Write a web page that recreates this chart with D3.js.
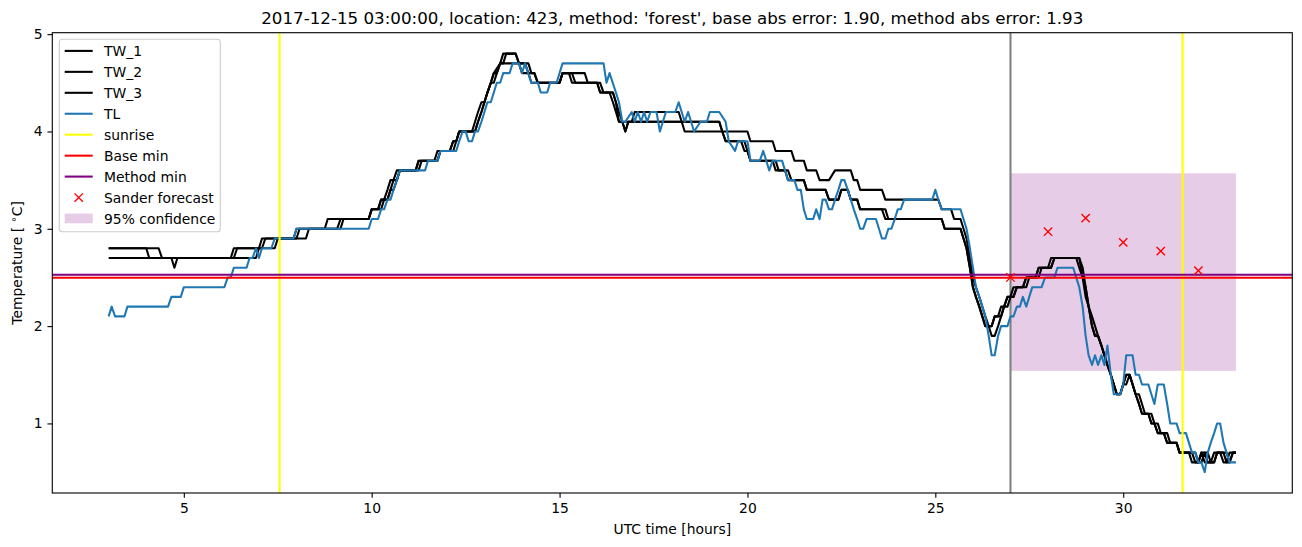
<!DOCTYPE html>
<html><head><meta charset="utf-8">
<script src="https://cdn.jsdelivr.net/npm/d3@7"></script>
<style>
body{margin:0;background:#fff}
svg{display:block}
text{font-family:"DejaVu Sans",sans-serif;fill:#000}
</style>
</head><body><svg id="c" width="1302" height="547"></svg>
<script>
// ---------------- data (time [h], temperature [°C]) ----------------
const tw1 = [[3.0,2.8],[4.33,2.8],[4.42,2.7],[6.25,2.7],[6.33,2.8],[7.0,2.8],[7.08,2.9],[7.92,2.9],[8.0,3.0],[8.75,3.0],[8.83,3.1],[9.92,3.1],[10.0,3.2],[10.17,3.2],[10.25,3.3],[10.33,3.3],[10.42,3.4],[10.5,3.5],[10.58,3.5],[10.67,3.6],[11.17,3.6],[11.25,3.7],[11.75,3.7],[11.83,3.8],[12.08,3.8],[12.17,3.9],[12.25,3.9],[12.33,4.0],[12.67,4.0],[12.75,4.1],[12.83,4.2],[12.92,4.3],[13.0,4.3],[13.08,4.4],[13.17,4.5],[13.25,4.6],[13.42,4.7],[13.5,4.8],[13.83,4.8],[13.92,4.7],[14.08,4.7],[14.17,4.6],[14.33,4.6],[14.42,4.5],[15.0,4.5],[15.08,4.6],[15.67,4.6],[15.75,4.5],[16.0,4.5],[16.08,4.4],[16.33,4.4],[16.42,4.3],[16.5,4.2],[16.58,4.1],[16.67,4.1],[16.75,4.0],[16.83,4.1],[18.25,4.1],[18.33,4.0],[20.0,4.0],[20.08,3.9],[20.67,3.9],[20.75,3.8],[21.17,3.8],[21.25,3.7],[21.5,3.7],[21.58,3.6],[21.83,3.6],[21.92,3.5],[22.17,3.5],[22.33,3.6],[22.75,3.6],[22.83,3.5],[22.92,3.5],[23.0,3.4],[23.58,3.4],[23.67,3.3],[25.08,3.3],[25.17,3.2],[25.42,3.2],[25.5,3.1],[25.67,3.1],[25.75,3.0],[25.83,2.9],[25.92,2.7],[26.0,2.5],[26.08,2.4],[26.17,2.3],[26.25,2.2],[26.33,2.1],[26.42,2.0],[26.5,1.9],[26.58,1.9],[26.67,2.0],[26.75,2.1],[26.83,2.2],[26.92,2.2],[27.0,2.3],[27.08,2.3],[27.17,2.4],[27.33,2.4],[27.42,2.5],[27.67,2.5],[27.75,2.6],[28.08,2.6],[28.17,2.7],[28.75,2.7],[28.83,2.6],[28.92,2.5],[29.0,2.3],[29.08,2.2],[29.17,2.0],[29.25,1.9],[29.33,1.9],[29.42,1.8],[29.5,1.7],[29.58,1.6],[29.67,1.5],[29.75,1.4],[29.83,1.3],[29.92,1.3],[30.0,1.4],[30.08,1.5],[30.17,1.5],[30.25,1.4],[30.33,1.3],[30.42,1.2],[30.5,1.1],[30.67,1.1],[30.75,1.0],[30.83,1.0],[30.92,0.9],[31.08,0.9],[31.17,0.8],[31.42,0.8],[31.5,0.7],[31.92,0.7],[32.0,0.6],[32.08,0.6],[32.17,0.7],[32.25,0.6],[32.42,0.6],[32.5,0.7],[32.67,0.7],[32.75,0.6],[32.83,0.7],[33.0,0.7]];

const tw2 = [[3.0,2.8],[4.0,2.8],[4.08,2.7],[6.33,2.7],[6.42,2.8],[7.08,2.8],[7.17,2.9],[8.0,2.9],[8.08,3.0],[9.08,3.0],[9.17,3.1],[9.92,3.1],[10.0,3.2],[10.25,3.2],[10.33,3.3],[10.42,3.3],[10.5,3.4],[10.58,3.5],[10.67,3.5],[10.75,3.6],[11.25,3.6],[11.33,3.7],[11.75,3.7],[11.83,3.8],[12.17,3.8],[12.25,3.9],[12.33,4.0],[12.75,4.0],[12.83,4.1],[12.92,4.2],[13.0,4.3],[13.08,4.4],[13.17,4.5],[13.25,4.6],[13.33,4.6],[13.42,4.7],[13.5,4.7],[13.58,4.8],[13.83,4.8],[13.92,4.7],[14.17,4.7],[14.25,4.6],[14.33,4.6],[14.42,4.5],[15.0,4.5],[15.08,4.6],[15.33,4.6],[15.42,4.5],[16.0,4.5],[16.08,4.4],[16.42,4.4],[16.5,4.3],[16.58,4.1],[16.67,4.1],[16.75,4.0],[16.83,4.1],[16.92,4.1],[17.0,4.2],[18.17,4.2],[18.25,4.1],[19.25,4.1],[19.33,4.0],[19.42,3.9],[19.83,3.9],[19.92,3.8],[20.0,3.8],[20.08,3.7],[20.67,3.7],[20.75,3.6],[21.08,3.6],[21.17,3.5],[21.5,3.5],[21.58,3.4],[22.08,3.4],[22.17,3.3],[22.42,3.3],[22.5,3.4],[22.67,3.4],[22.75,3.3],[22.92,3.3],[23.0,3.2],[23.58,3.2],[23.67,3.1],[25.17,3.1],[25.25,3.0],[25.67,3.0],[25.75,2.9],[25.83,2.8],[25.92,2.6],[26.0,2.4],[26.08,2.3],[26.17,2.2],[26.25,2.1],[26.33,2.0],[26.5,2.0],[26.58,2.1],[26.67,2.1],[26.75,2.2],[26.83,2.2],[26.92,2.3],[27.08,2.3],[27.17,2.4],[27.42,2.4],[27.5,2.5],[27.75,2.5],[27.83,2.6],[28.08,2.6],[28.17,2.7],[28.83,2.7],[28.92,2.5],[29.0,2.4],[29.08,2.2],[29.17,2.1],[29.25,2.0],[29.33,1.9],[29.42,1.8],[29.5,1.7],[29.58,1.6],[29.67,1.5],[29.75,1.4],[29.83,1.3],[29.92,1.3],[30.0,1.4],[30.08,1.4],[30.17,1.5],[30.25,1.4],[30.33,1.3],[30.42,1.3],[30.5,1.2],[30.58,1.1],[30.75,1.1],[30.83,1.0],[30.92,1.0],[31.0,0.9],[31.17,0.9],[31.25,0.8],[31.42,0.8],[31.5,0.7],[31.75,0.7],[31.83,0.6],[32.0,0.6],[32.08,0.7],[32.17,0.6],[32.33,0.6],[32.42,0.7],[32.58,0.7],[32.67,0.6],[32.83,0.6],[32.92,0.7],[33.0,0.7]];

const tw3 = [[3.0,2.7],[4.67,2.7],[4.75,2.6],[4.83,2.7],[6.92,2.7],[7.0,2.8],[7.42,2.8],[7.5,2.9],[8.25,2.9],[8.33,3.0],[9.17,3.0],[9.25,3.1],[9.92,3.1],[10.0,3.2],[10.17,3.2],[10.25,3.3],[10.42,3.3],[10.5,3.4],[10.58,3.4],[10.67,3.5],[10.75,3.6],[11.17,3.6],[11.25,3.7],[11.67,3.7],[11.75,3.8],[12.08,3.8],[12.17,3.9],[12.25,3.9],[12.33,4.0],[12.75,4.0],[12.83,4.1],[12.92,4.2],[13.0,4.3],[13.08,4.4],[13.17,4.5],[13.25,4.5],[13.33,4.6],[13.42,4.7],[13.92,4.7],[14.0,4.6],[14.17,4.6],[14.25,4.5],[15.0,4.5],[15.08,4.6],[15.25,4.6],[15.33,4.5],[16.08,4.5],[16.17,4.4],[16.42,4.4],[16.5,4.3],[16.58,4.2],[16.67,4.1],[19.25,4.1],[19.33,4.0],[19.42,3.9],[19.92,3.9],[20.0,3.8],[20.08,3.7],[20.75,3.7],[20.83,3.6],[21.0,3.6],[21.08,3.5],[21.5,3.5],[21.58,3.4],[22.08,3.4],[22.17,3.3],[22.42,3.3],[22.5,3.4],[22.67,3.4],[22.75,3.3],[22.92,3.3],[23.0,3.2],[23.67,3.2],[23.75,3.1],[25.17,3.1],[25.25,3.0],[25.67,3.0],[25.75,2.9],[25.83,2.8],[25.92,2.6],[26.0,2.4],[26.08,2.3],[26.17,2.2],[26.25,2.1],[26.33,2.0],[26.5,2.0],[26.58,2.1],[26.75,2.1],[26.83,2.2],[26.92,2.3],[27.0,2.3],[27.08,2.4],[27.33,2.4],[27.42,2.5],[27.67,2.5],[27.75,2.6],[28.0,2.6],[28.08,2.7],[28.83,2.7],[28.92,2.6],[29.0,2.4],[29.08,2.2],[29.17,2.0],[29.25,1.9],[29.33,1.9],[29.42,1.8],[29.5,1.7],[29.58,1.6],[29.67,1.5],[29.75,1.4],[29.83,1.3],[29.92,1.3],[30.0,1.4],[30.08,1.5],[30.17,1.5],[30.25,1.4],[30.33,1.3],[30.42,1.2],[30.5,1.1],[30.67,1.1],[30.75,1.0],[30.83,1.0],[30.92,0.9],[31.08,0.9],[31.17,0.8],[31.42,0.8],[31.5,0.7],[31.83,0.7],[31.92,0.6],[32.0,0.6],[32.08,0.7],[32.25,0.7],[32.33,0.6],[32.42,0.6],[32.5,0.7],[32.75,0.7],[32.83,0.6],[32.92,0.7],[33.0,0.7]];

const tl = [[3.0,2.1],[3.08,2.2],[3.17,2.1],[3.42,2.1],[3.5,2.2],[4.58,2.2],[4.67,2.3],[4.92,2.3],[5.0,2.4],[6.08,2.4],[6.17,2.5],[6.25,2.5],[6.33,2.6],[6.67,2.6],[6.75,2.7],[6.83,2.7],[6.92,2.8],[7.0,2.7],[7.08,2.8],[7.33,2.8],[7.42,2.9],[7.92,2.9],[8.0,3.0],[9.92,3.0],[10.0,3.1],[10.17,3.1],[10.25,3.2],[10.33,3.2],[10.42,3.3],[10.5,3.3],[10.58,3.4],[10.67,3.5],[10.75,3.6],[11.42,3.6],[11.5,3.7],[11.75,3.7],[11.83,3.8],[12.25,3.8],[12.33,3.9],[12.42,4.0],[12.5,4.0],[12.58,3.9],[12.67,3.9],[12.75,4.0],[12.83,4.0],[12.92,4.1],[13.0,4.2],[13.08,4.3],[13.17,4.3],[13.25,4.4],[13.33,4.5],[13.42,4.5],[13.5,4.6],[13.67,4.6],[13.75,4.7],[13.92,4.7],[14.0,4.6],[14.08,4.7],[14.25,4.5],[14.42,4.5],[14.5,4.4],[14.67,4.4],[14.75,4.5],[14.92,4.5],[15.08,4.7],[16.17,4.7],[16.25,4.5],[16.33,4.6],[16.5,4.4],[16.58,4.3],[16.67,4.1],[16.75,4.1],[16.92,4.2],[17.0,4.1],[17.08,4.2],[17.17,4.1],[17.25,4.2],[17.33,4.1],[17.42,4.2],[17.58,4.2],[17.67,4.0],[17.75,4.1],[17.83,4.2],[18.08,4.2],[18.17,4.3],[18.25,4.2],[18.33,4.1],[18.42,4.2],[18.58,4.0],[18.75,4.1],[18.92,4.1],[19.0,4.2],[19.25,4.2],[19.42,4.1],[19.5,3.9],[19.67,3.8],[19.75,3.9],[20.0,3.9],[20.08,3.7],[20.33,3.7],[20.42,3.8],[20.58,3.6],[20.67,3.7],[20.92,3.7],[21.0,3.6],[21.08,3.5],[21.25,3.5],[21.33,3.4],[21.42,3.4],[21.5,3.2],[21.58,3.1],[21.75,3.1],[21.83,3.2],[21.92,3.1],[22.0,3.3],[22.08,3.3],[22.17,3.2],[22.25,3.2],[22.33,3.3],[22.42,3.4],[22.5,3.5],[22.58,3.5],[22.67,3.4],[22.75,3.3],[22.83,3.2],[22.92,3.1],[23.0,3.0],[23.08,3.0],[23.17,3.1],[23.42,3.1],[23.5,3.0],[23.58,2.9],[23.67,2.9],[23.75,3.0],[23.83,3.0],[23.92,3.1],[24.0,3.2],[24.08,3.2],[24.17,3.3],[24.92,3.3],[25.0,3.4],[25.08,3.3],[25.17,3.2],[25.67,3.2],[25.75,3.1],[25.83,3.0],[25.92,2.8],[26.0,2.6],[26.08,2.4],[26.17,2.3],[26.25,2.2],[26.33,2.1],[26.42,1.9],[26.5,1.7],[26.58,1.7],[26.67,1.9],[26.75,2.0],[26.92,2.0],[27.0,2.1],[27.08,2.1],[27.17,2.2],[27.25,2.2],[27.33,2.3],[27.42,2.2],[27.5,2.3],[27.58,2.4],[27.83,2.4],[27.92,2.5],[28.17,2.5],[28.25,2.6],[28.67,2.6],[28.75,2.5],[28.83,2.4],[28.92,2.2],[29.0,1.9],[29.08,1.7],[29.17,1.6],[29.25,1.7],[29.33,1.6],[29.42,1.7],[29.5,1.6],[29.58,1.8],[29.67,1.5],[29.75,1.3],[29.92,1.3],[30.0,1.4],[30.08,1.7],[30.25,1.7],[30.33,1.5],[30.42,1.5],[30.5,1.4],[30.67,1.4],[30.75,1.3],[30.83,1.2],[30.92,1.4],[31.08,1.4],[31.17,1.2],[31.25,1.0],[31.42,1.0],[31.5,0.9],[31.67,0.9],[31.75,0.8],[31.83,0.7],[31.92,0.7],[32.0,0.6],[32.08,0.6],[32.17,0.5],[32.25,0.7],[32.33,0.8],[32.42,0.9],[32.5,1.0],[32.58,1.0],[32.67,0.8],[32.75,0.7],[32.83,0.6],[33.0,0.6]];

const sunriseTimes = [7.55, 31.58];
const forecastStart = 27;
const baseMin = 2.497;
const methodMin = 2.527;
const forecastTimes = [27, 28, 29, 30, 31, 32];
const forecastValues = [2.50, 2.97, 3.11, 2.86, 2.77, 2.57];
const confTimes = [27, 33];
const confRange = [1.54, 3.57];
const xTicks = [5, 10, 15, 20, 25, 30];
const yTicks = [1, 2, 3, 4, 5];
const legendLabels = ["TW_1", "TW_2", "TW_3", "TL", "sunrise", "Base min", "Method min", "Sander forecast", "95% confidence"];
const titleText = "2017-12-15 03:00:00, location: 423, method: 'forest', base abs error: 1.90, method abs error: 1.93";

// ---------------- layout ----------------
const m = {l: 52.3, r: 1292.3, t: 32.7, b: 493};
const svg = d3.select("#c");

const allPts = [...tw1, ...tw2, ...tw3, ...tl];
const tExt = d3.extent(allPts, d => d[0]);
const vExt = d3.extent(allPts, d => d[1]);
const tPad = (tExt[1] - tExt[0]) * 0.05, vPad = (vExt[1] - vExt[0]) * 0.05;
const x = d3.scaleLinear().domain([tExt[0] - tPad, tExt[1] + tPad]).range([m.l, m.r]);
const y = d3.scaleLinear().domain([vExt[0] - vPad, vExt[1] + vPad]).range([m.b, m.t]);

svg.append("defs").append("clipPath").attr("id", "clip")
  .append("rect").attr("x", m.l).attr("y", m.t).attr("width", m.r - m.l).attr("height", m.b - m.t);
const plot = svg.append("g").attr("clip-path", "url(#clip)");

// confidence box
plot.append("rect")
  .attr("x", x(confTimes[0])).attr("width", x(confTimes[1]) - x(confTimes[0]))
  .attr("y", y(confRange[1])).attr("height", y(confRange[0]) - y(confRange[1]))
  .attr("fill", "purple").attr("fill-opacity", 0.2);

// forecast-start vertical line
plot.append("line")
  .attr("x1", x(forecastStart)).attr("x2", x(forecastStart))
  .attr("y1", m.t).attr("y2", m.b)
  .attr("stroke", "gray").attr("stroke-width", 2.08);

const line = d3.line().x(d => x(d[0])).y(d => y(d[1]));
[[tw1, "#000"], [tw2, "#000"], [tw3, "#000"], [tl, "#1f77b4"]].forEach(([s, c]) => {
  plot.append("path").datum(s).attr("d", line)
    .attr("fill", "none").attr("stroke", c).attr("stroke-width", 2.08)
    .attr("stroke-linejoin", "round").attr("stroke-linecap", "butt");
});

// sunrise lines
plot.selectAll(".sun").data(sunriseTimes).enter().append("line")
  .attr("x1", d => x(d)).attr("x2", d => x(d))
  .attr("y1", m.t).attr("y2", m.b)
  .attr("stroke", "yellow").attr("stroke-width", 2.08);

// horizontal min lines
[[baseMin, "red"], [methodMin, "purple"]].forEach(([v, c]) => {
  plot.append("line").attr("x1", m.l).attr("x2", m.r)
    .attr("y1", y(v)).attr("y2", y(v))
    .attr("stroke", c).attr("stroke-width", 2.08);
});

// forecast markers
const ms = 4.17;
forecastTimes.forEach((t, i) => {
  const cx = x(t), cy = y(forecastValues[i]);
  plot.append("path")
    .attr("d", `M${cx-ms},${cy-ms}L${cx+ms},${cy+ms}M${cx-ms},${cy+ms}L${cx+ms},${cy-ms}`)
    .attr("stroke", "red").attr("stroke-width", 1.39).attr("fill", "none");
});

// frame
svg.append("rect").attr("x", m.l).attr("y", m.t).attr("width", m.r - m.l).attr("height", m.b - m.t)
  .attr("fill", "none").attr("stroke", "#000").attr("stroke-width", 1.11);

// axes
const fs = "13.9px";
const xAxis = svg.append("g").attr("transform", `translate(0,${m.b})`)
  .call(d3.axisBottom(x).tickValues(xTicks).tickFormat(d3.format("d")).tickSize(4.86).tickPadding(4.86).tickSizeOuter(0));
const yAxis = svg.append("g").attr("transform", `translate(${m.l},0)`)
  .call(d3.axisLeft(y).tickValues(yTicks).tickFormat(d3.format("d")).tickSize(4.86).tickPadding(4.86).tickSizeOuter(0));
[xAxis, yAxis].forEach(g => {
  g.select(".domain").remove();
  g.selectAll(".tick line").attr("stroke", "#000").attr("stroke-width", 1.11);
  g.selectAll(".tick text").attr("font-size", fs).attr("font-family", "DejaVu Sans, sans-serif").attr("fill", "#000");
});
xAxis.selectAll(".tick text").attr("dy", "0.76em");

// labels
svg.append("text").attr("x", (m.l + m.r) / 2).attr("y", 534).attr("text-anchor", "middle")
  .attr("font-size", fs).text("UTC time [hours]");
const yl = svg.append("text").attr("transform", `translate(22,${(m.t + m.b) / 2}) rotate(-90)`)
  .attr("text-anchor", "middle").attr("font-size", fs);
yl.append("tspan").text("Temperature [ ");
yl.append("tspan").attr("font-size", "10px").attr("dy", "-5").text("∘");
yl.append("tspan").attr("dy", "5").text("C]");

svg.append("text").attr("x", (m.l + m.r) / 2).attr("y", 24).attr("text-anchor", "middle")
  .attr("font-size", "16.7px").text(titleText);

// legend
const lg = svg.append("g");
lg.append("rect").attr("x", 59.3).attr("y", 39.3).attr("width", 161).attr("height", 192.4)
  .attr("rx", 3).attr("fill", "#fff").attr("fill-opacity", 0.8)
  .attr("stroke", "#cccccc").attr("stroke-width", 1.11);
const styles = [
  {type: "line", c: "#000"}, {type: "line", c: "#000"}, {type: "line", c: "#000"},
  {type: "line", c: "#1f77b4"}, {type: "line", c: "yellow"}, {type: "line", c: "red"},
  {type: "line", c: "purple"}, {type: "x", c: "red"}, {type: "patch", c: "purple"}
];
legendLabels.forEach((lab, i) => {
  const cy = 50.9 + i * 20.95;
  const st = styles[i];
  if (st.type === "line") {
    lg.append("line").attr("x1", 64.7).attr("x2", 92.7).attr("y1", cy).attr("y2", cy)
      .attr("stroke", st.c).attr("stroke-width", 2.08);
  } else if (st.type === "x") {
    const cx = 78.7;
    lg.append("path").attr("d", `M${cx-ms},${cy-ms}L${cx+ms},${cy+ms}M${cx-ms},${cy+ms}L${cx+ms},${cy-ms}`)
      .attr("stroke", st.c).attr("stroke-width", 1.39);
  } else {
    lg.append("rect").attr("x", 64.7).attr("y", cy - 4.9).attr("width", 28).attr("height", 9.7)
      .attr("fill", st.c).attr("fill-opacity", 0.2);
  }
  lg.append("text").attr("x", 104).attr("y", cy + 5).attr("font-size", fs).text(lab);
});
</script>
</body></html>
